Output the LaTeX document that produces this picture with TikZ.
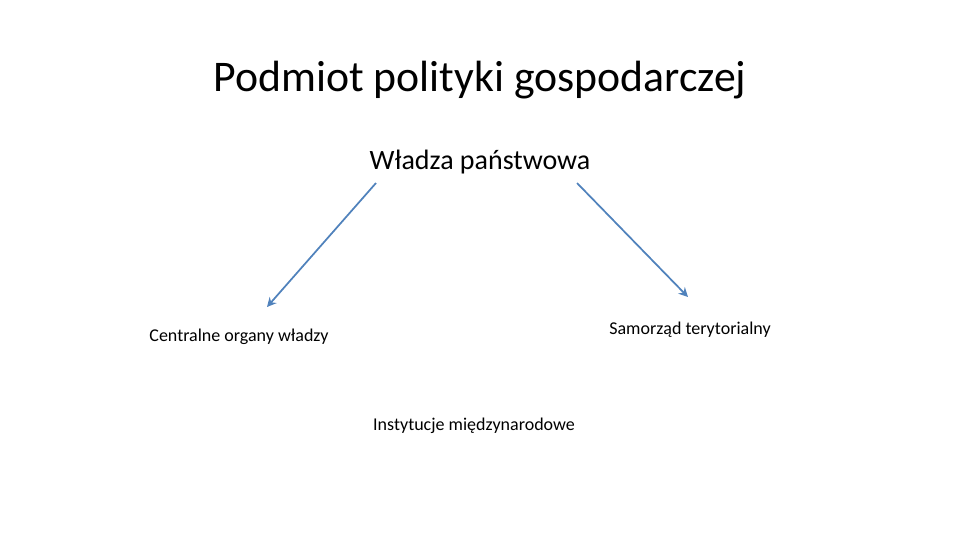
\documentclass[tikz,border=0pt]{standalone}
\usepackage{fontspec}
\setmainfont{Carlito}
\usetikzlibrary{arrows.meta}
\begin{document}
\begin{tikzpicture}[x=0.75pt,y=-0.75pt,
  lbl/.style={inner sep=0pt,text=black},
  small/.style={lbl,font=\fontsize{13.5}{16}\selectfont},
  arr/.style={draw=arrowblue,line width=1.3pt,-{Stealth[length=7pt,width=7pt]}}]
\definecolor{arrowblue}{RGB}{80,130,188}
\useasboundingbox[fill=white] (0,0) rectangle (960,540);
\node[lbl,font=\fontsize{32.8}{38}\selectfont] (title) at (480,80) {Podmiot polityki gospodarczej};
\node[lbl,font=\fontsize{21}{25}\selectfont] (wp) at (480,162) {Władza państwowa};
\node[small] (co) at (239,337) {Centralne organy władzy};
\node[small] (st) at (690,330) {Samorząd terytorialny};
\node[small] (im) at (474,426) {Instytucje międzynarodowe};
\coordinate (a1s) at (376,183);
\coordinate (a1e) at (267,307);
\coordinate (a2s) at (577,183);
\coordinate (a2e) at (688,297);
\draw[arr] (a1s) -- (a1e);
\draw[arr] (a2s) -- (a2e);
\end{tikzpicture}
\end{document}
